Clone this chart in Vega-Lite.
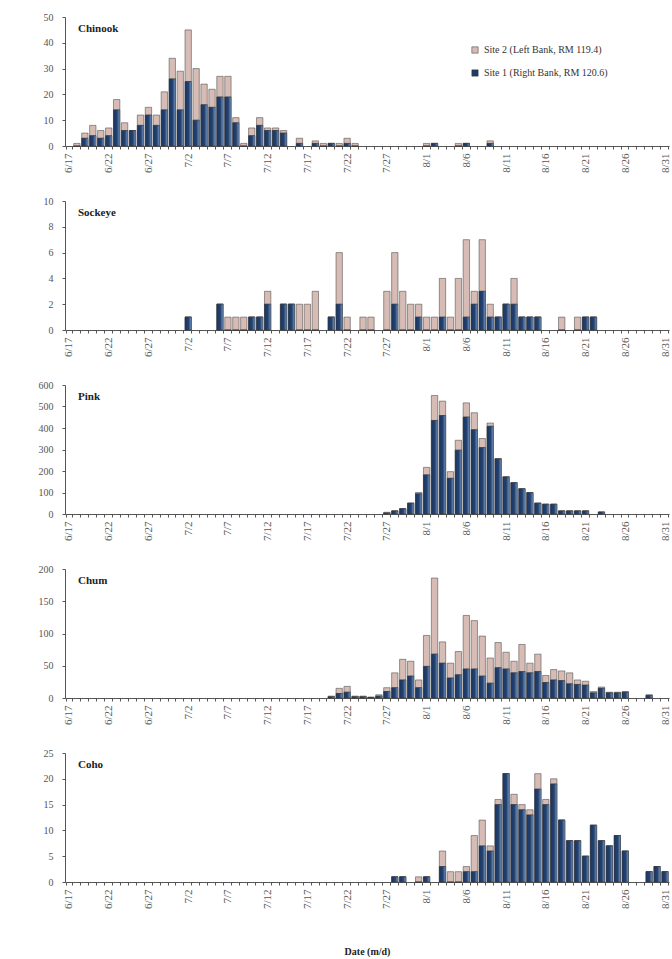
{
  "$schema": "https://vega.github.io/schema/vega-lite/v6.json",
  "padding": {"top": 12, "left": 38, "right": 0, "bottom": 4},
  "background": "white",
  "datasets": {
    "chinook": [
      {"d": "6/18", "s1": 0, "s2": 1}, {"d": "6/19", "s1": 3, "s2": 2}, {"d": "6/20", "s1": 4, "s2": 4},
      {"d": "6/21", "s1": 3, "s2": 3}, {"d": "6/22", "s1": 4, "s2": 3}, {"d": "6/23", "s1": 14, "s2": 4},
      {"d": "6/24", "s1": 6, "s2": 3}, {"d": "6/25", "s1": 6, "s2": 0}, {"d": "6/26", "s1": 8, "s2": 4},
      {"d": "6/27", "s1": 12, "s2": 3}, {"d": "6/28", "s1": 8, "s2": 4}, {"d": "6/29", "s1": 14, "s2": 7},
      {"d": "6/30", "s1": 26, "s2": 8}, {"d": "7/1", "s1": 14, "s2": 15}, {"d": "7/2", "s1": 25, "s2": 20},
      {"d": "7/3", "s1": 10, "s2": 20}, {"d": "7/4", "s1": 16, "s2": 8}, {"d": "7/5", "s1": 15, "s2": 7},
      {"d": "7/6", "s1": 19, "s2": 8}, {"d": "7/7", "s1": 19, "s2": 8}, {"d": "7/8", "s1": 9, "s2": 2},
      {"d": "7/9", "s1": 0, "s2": 1}, {"d": "7/10", "s1": 4, "s2": 3}, {"d": "7/11", "s1": 8, "s2": 3},
      {"d": "7/12", "s1": 6, "s2": 1}, {"d": "7/13", "s1": 6, "s2": 1}, {"d": "7/14", "s1": 5, "s2": 1},
      {"d": "7/16", "s1": 1, "s2": 2}, {"d": "7/18", "s1": 1, "s2": 1}, {"d": "7/19", "s1": 0, "s2": 1},
      {"d": "7/20", "s1": 1, "s2": 0}, {"d": "7/21", "s1": 0, "s2": 1}, {"d": "7/22", "s1": 1, "s2": 2},
      {"d": "7/23", "s1": 0, "s2": 1}, {"d": "8/1", "s1": 0, "s2": 1}, {"d": "8/2", "s1": 1, "s2": 0},
      {"d": "8/5", "s1": 0, "s2": 1}, {"d": "8/6", "s1": 1, "s2": 0}, {"d": "8/9", "s1": 1, "s2": 1}
    ],
    "sockeye": [
      {"d": "7/2", "s1": 1, "s2": 0}, {"d": "7/6", "s1": 2, "s2": 0}, {"d": "7/7", "s1": 0, "s2": 1},
      {"d": "7/8", "s1": 0, "s2": 1}, {"d": "7/9", "s1": 0, "s2": 1}, {"d": "7/10", "s1": 1, "s2": 0},
      {"d": "7/11", "s1": 1, "s2": 0}, {"d": "7/12", "s1": 2, "s2": 1}, {"d": "7/14", "s1": 2, "s2": 0},
      {"d": "7/15", "s1": 2, "s2": 0}, {"d": "7/16", "s1": 0, "s2": 2}, {"d": "7/17", "s1": 0, "s2": 2},
      {"d": "7/18", "s1": 0, "s2": 3}, {"d": "7/20", "s1": 1, "s2": 0}, {"d": "7/21", "s1": 2, "s2": 4},
      {"d": "7/22", "s1": 0, "s2": 1}, {"d": "7/24", "s1": 0, "s2": 1}, {"d": "7/25", "s1": 0, "s2": 1},
      {"d": "7/27", "s1": 0, "s2": 3}, {"d": "7/28", "s1": 2, "s2": 4}, {"d": "7/29", "s1": 0, "s2": 3},
      {"d": "7/30", "s1": 0, "s2": 2}, {"d": "7/31", "s1": 1, "s2": 1}, {"d": "8/1", "s1": 0, "s2": 1},
      {"d": "8/2", "s1": 0, "s2": 1}, {"d": "8/3", "s1": 1, "s2": 3}, {"d": "8/4", "s1": 0, "s2": 1},
      {"d": "8/5", "s1": 0, "s2": 4}, {"d": "8/6", "s1": 1, "s2": 6}, {"d": "8/7", "s1": 2, "s2": 1},
      {"d": "8/8", "s1": 3, "s2": 4}, {"d": "8/9", "s1": 1, "s2": 1}, {"d": "8/10", "s1": 1, "s2": 0},
      {"d": "8/11", "s1": 2, "s2": 0}, {"d": "8/12", "s1": 2, "s2": 2}, {"d": "8/13", "s1": 1, "s2": 0},
      {"d": "8/14", "s1": 1, "s2": 0}, {"d": "8/15", "s1": 1, "s2": 0}, {"d": "8/18", "s1": 0, "s2": 1},
      {"d": "8/20", "s1": 0, "s2": 1}, {"d": "8/21", "s1": 1, "s2": 0}, {"d": "8/22", "s1": 1, "s2": 0}
    ],
    "pink": [
      {"d": "7/27", "s1": 5, "s2": 3}, {"d": "7/28", "s1": 14, "s2": 1}, {"d": "7/29", "s1": 24, "s2": 1},
      {"d": "7/30", "s1": 50, "s2": 1}, {"d": "7/31", "s1": 94, "s2": 6}, {"d": "8/1", "s1": 182, "s2": 35},
      {"d": "8/2", "s1": 435, "s2": 116}, {"d": "8/3", "s1": 458, "s2": 67}, {"d": "8/4", "s1": 166, "s2": 31},
      {"d": "8/5", "s1": 297, "s2": 46}, {"d": "8/6", "s1": 451, "s2": 66}, {"d": "8/7", "s1": 392, "s2": 79},
      {"d": "8/8", "s1": 309, "s2": 42}, {"d": "8/9", "s1": 408, "s2": 15}, {"d": "8/10", "s1": 256, "s2": 2},
      {"d": "8/11", "s1": 172, "s2": 2}, {"d": "8/12", "s1": 145, "s2": 1}, {"d": "8/13", "s1": 117, "s2": 1},
      {"d": "8/14", "s1": 99, "s2": 1}, {"d": "8/15", "s1": 50, "s2": 1}, {"d": "8/16", "s1": 45, "s2": 1},
      {"d": "8/17", "s1": 45, "s2": 1}, {"d": "8/18", "s1": 14, "s2": 1}, {"d": "8/19", "s1": 14, "s2": 1},
      {"d": "8/20", "s1": 14, "s2": 1}, {"d": "8/21", "s1": 14, "s2": 1}, {"d": "8/23", "s1": 9, "s2": 0}
    ],
    "chum": [
      {"d": "7/20", "s1": 2, "s2": 1}, {"d": "7/21", "s1": 7, "s2": 8}, {"d": "7/22", "s1": 9, "s2": 9},
      {"d": "7/23", "s1": 2, "s2": 1}, {"d": "7/24", "s1": 2, "s2": 1}, {"d": "7/25", "s1": 1, "s2": 0},
      {"d": "7/26", "s1": 3, "s2": 2}, {"d": "7/27", "s1": 10, "s2": 6}, {"d": "7/28", "s1": 16, "s2": 23},
      {"d": "7/29", "s1": 28, "s2": 32}, {"d": "7/30", "s1": 34, "s2": 23}, {"d": "7/31", "s1": 16, "s2": 12},
      {"d": "8/1", "s1": 49, "s2": 48}, {"d": "8/2", "s1": 68, "s2": 118}, {"d": "8/3", "s1": 54, "s2": 33},
      {"d": "8/4", "s1": 31, "s2": 23}, {"d": "8/5", "s1": 36, "s2": 36}, {"d": "8/6", "s1": 45, "s2": 83},
      {"d": "8/7", "s1": 45, "s2": 75}, {"d": "8/8", "s1": 34, "s2": 62}, {"d": "8/9", "s1": 23, "s2": 39},
      {"d": "8/10", "s1": 47, "s2": 39}, {"d": "8/11", "s1": 45, "s2": 26}, {"d": "8/12", "s1": 39, "s2": 18},
      {"d": "8/13", "s1": 41, "s2": 42}, {"d": "8/14", "s1": 39, "s2": 15}, {"d": "8/15", "s1": 41, "s2": 27},
      {"d": "8/16", "s1": 24, "s2": 11}, {"d": "8/17", "s1": 28, "s2": 16}, {"d": "8/18", "s1": 27, "s2": 15},
      {"d": "8/19", "s1": 22, "s2": 17}, {"d": "8/20", "s1": 21, "s2": 7}, {"d": "8/21", "s1": 20, "s2": 6},
      {"d": "8/22", "s1": 8, "s2": 2}, {"d": "8/23", "s1": 15, "s2": 2}, {"d": "8/24", "s1": 8, "s2": 1},
      {"d": "8/25", "s1": 8, "s2": 1}, {"d": "8/26", "s1": 9, "s2": 1}, {"d": "8/29", "s1": 4, "s2": 1}
    ],
    "coho": [
      {"d": "7/28", "s1": 1, "s2": 0}, {"d": "7/29", "s1": 1, "s2": 0}, {"d": "7/31", "s1": 0, "s2": 1},
      {"d": "8/1", "s1": 1, "s2": 0}, {"d": "8/3", "s1": 3, "s2": 3}, {"d": "8/4", "s1": 0, "s2": 2},
      {"d": "8/5", "s1": 0, "s2": 2}, {"d": "8/6", "s1": 2, "s2": 1}, {"d": "8/7", "s1": 2, "s2": 7},
      {"d": "8/8", "s1": 7, "s2": 5}, {"d": "8/9", "s1": 6, "s2": 1}, {"d": "8/10", "s1": 15, "s2": 1},
      {"d": "8/11", "s1": 21, "s2": 0}, {"d": "8/12", "s1": 15, "s2": 2}, {"d": "8/13", "s1": 14, "s2": 1},
      {"d": "8/14", "s1": 13, "s2": 1}, {"d": "8/15", "s1": 18, "s2": 3}, {"d": "8/16", "s1": 15, "s2": 1},
      {"d": "8/17", "s1": 19, "s2": 1}, {"d": "8/18", "s1": 12, "s2": 0}, {"d": "8/19", "s1": 8, "s2": 0},
      {"d": "8/20", "s1": 8, "s2": 0}, {"d": "8/21", "s1": 5, "s2": 0}, {"d": "8/22", "s1": 11, "s2": 0},
      {"d": "8/23", "s1": 8, "s2": 0}, {"d": "8/24", "s1": 7, "s2": 0}, {"d": "8/25", "s1": 9, "s2": 0},
      {"d": "8/26", "s1": 6, "s2": 0}, {"d": "8/29", "s1": 2, "s2": 0}, {"d": "8/30", "s1": 3, "s2": 0},
      {"d": "8/31", "s1": 2, "s2": 0}
    ]
  },
  "config": {
    "view": {"stroke": null},
    "font": "Liberation Serif",
    "concat": {"spacing": 23},
    "axis": {"grid": false, "labelFont": "Liberation Serif", "labelColor": "#555", "domainColor": "#555", "tickColor": "#555", "tickSize": 3, "titleFont": "Liberation Serif"},
    "axisY": {"labelFontSize": 10, "labelPadding": 9, "title": null},
    "axisX": {"labelFontSize": 11, "labelAngle": -90, "labelPadding": 4, "tickBand": "extent", "title": null},
    "title": {"font": "Liberation Serif", "fontSize": 11, "fontWeight": "bold", "color": "#222", "anchor": "start", "frame": "group", "offset": -22, "dx": 13},
    "bar": {"stroke": "#3a3a3a", "strokeWidth": 0.5}
  },
  "resolve": {"scale": {"color": "independent"}, "legend": {"color": "independent"}},
  "vconcat": [
    {
      "width": 604, "height": 129,
      "title": {"text": "Chinook"},
      "data": {"name": "chinook"},
      "transform": [{"fold": ["s1", "s2"], "as": ["site", "n"]}],
      "encoding": {
        "x": {"field": "d", "type": "ordinal", "sort": null, "scale": {"domain": ["6/17","6/18","6/19","6/20","6/21","6/22","6/23","6/24","6/25","6/26","6/27","6/28","6/29","6/30","7/1","7/2","7/3","7/4","7/5","7/6","7/7","7/8","7/9","7/10","7/11","7/12","7/13","7/14","7/15","7/16","7/17","7/18","7/19","7/20","7/21","7/22","7/23","7/24","7/25","7/26","7/27","7/28","7/29","7/30","7/31","8/1","8/2","8/3","8/4","8/5","8/6","8/7","8/8","8/9","8/10","8/11","8/12","8/13","8/14","8/15","8/16","8/17","8/18","8/19","8/20","8/21","8/22","8/23","8/24","8/25","8/26","8/27","8/28","8/29","8/30","8/31"], "paddingInner": 0.2, "paddingOuter": 0.1},
          "axis": {"labelExpr": "indexof(['6/17','6/22','6/27','7/2','7/7','7/12','7/17','7/22','7/27','8/1','8/6','8/11','8/16','8/21','8/26','8/31'], datum.value) >= 0 ? datum.label : ''"}},
        "y": {"field": "n", "type": "quantitative", "stack": "zero", "scale": {"domain": [0, 50], "nice": false}, "axis": {"values": [0, 10, 20, 30, 40, 50]}},
        "order": {"field": "site", "sort": "ascending"}
      },
      "layer": [
        {
          "mark": {"type": "bar"},
          "encoding": {
            "color": {"field": "site", "type": "nominal", "scale": {"domain": ["s2", "s1"], "range": ["#d6bcb5", "#203b68"]},
              "legend": {"title": null, "orient": "none", "legendX": 405, "legendY": 28, "symbolType": "square", "symbolSize": 40, "symbolStrokeColor": "#333", "symbolStrokeWidth": 0.5, "labelFont": "Liberation Serif", "labelFontSize": 10, "labelColor": "#333", "rowPadding": 13, "labelLimit": 300,
                "labelExpr": "datum.value == 's2' ? 'Site 2 (Left Bank, RM 119.4)' : 'Site 1 (Right Bank, RM 120.6)'"}}
          }
        },
        {
          "transform": [{"filter": "datum.site == 's1'"}],
          "mark": {"type": "bar", "fill": {"gradient": "linear", "x1": 0, "x2": 1, "y1": 0, "y2": 0, "stops": [{"offset": 0, "color": "#1b3460"}, {"offset": 0.55, "color": "#24426f"}, {"offset": 1, "color": "#7396c4"}]}}
        }
      ]
    },
    {
      "width": 604, "height": 129,
      "title": {"text": "Sockeye"},
      "data": {"name": "sockeye"},
      "transform": [{"fold": ["s1", "s2"], "as": ["site", "n"]}],
      "encoding": {
        "x": {"field": "d", "type": "ordinal", "sort": null, "scale": {"domain": ["6/17","6/18","6/19","6/20","6/21","6/22","6/23","6/24","6/25","6/26","6/27","6/28","6/29","6/30","7/1","7/2","7/3","7/4","7/5","7/6","7/7","7/8","7/9","7/10","7/11","7/12","7/13","7/14","7/15","7/16","7/17","7/18","7/19","7/20","7/21","7/22","7/23","7/24","7/25","7/26","7/27","7/28","7/29","7/30","7/31","8/1","8/2","8/3","8/4","8/5","8/6","8/7","8/8","8/9","8/10","8/11","8/12","8/13","8/14","8/15","8/16","8/17","8/18","8/19","8/20","8/21","8/22","8/23","8/24","8/25","8/26","8/27","8/28","8/29","8/30","8/31"], "paddingInner": 0.2, "paddingOuter": 0.1},
          "axis": {"labelExpr": "indexof(['6/17','6/22','6/27','7/2','7/7','7/12','7/17','7/22','7/27','8/1','8/6','8/11','8/16','8/21','8/26','8/31'], datum.value) >= 0 ? datum.label : ''"}},
        "y": {"field": "n", "type": "quantitative", "stack": "zero", "scale": {"domain": [0, 10], "nice": false}, "axis": {"values": [0, 2, 4, 6, 8, 10]}},
        "order": {"field": "site", "sort": "ascending"}
      },
      "layer": [
        {
          "mark": {"type": "bar"},
          "encoding": {
            "color": {"field": "site", "type": "nominal", "scale": {"domain": ["s2", "s1"], "range": ["#d6bcb5", "#203b68"]}, "legend": null}
          }
        },
        {
          "transform": [{"filter": "datum.site == 's1'"}],
          "mark": {"type": "bar", "fill": {"gradient": "linear", "x1": 0, "x2": 1, "y1": 0, "y2": 0, "stops": [{"offset": 0, "color": "#1b3460"}, {"offset": 0.55, "color": "#24426f"}, {"offset": 1, "color": "#7396c4"}]}}
        }
      ]
    },
    {
      "width": 604, "height": 129,
      "title": {"text": "Pink"},
      "data": {"name": "pink"},
      "transform": [{"fold": ["s1", "s2"], "as": ["site", "n"]}],
      "encoding": {
        "x": {"field": "d", "type": "ordinal", "sort": null, "scale": {"domain": ["6/17","6/18","6/19","6/20","6/21","6/22","6/23","6/24","6/25","6/26","6/27","6/28","6/29","6/30","7/1","7/2","7/3","7/4","7/5","7/6","7/7","7/8","7/9","7/10","7/11","7/12","7/13","7/14","7/15","7/16","7/17","7/18","7/19","7/20","7/21","7/22","7/23","7/24","7/25","7/26","7/27","7/28","7/29","7/30","7/31","8/1","8/2","8/3","8/4","8/5","8/6","8/7","8/8","8/9","8/10","8/11","8/12","8/13","8/14","8/15","8/16","8/17","8/18","8/19","8/20","8/21","8/22","8/23","8/24","8/25","8/26","8/27","8/28","8/29","8/30","8/31"], "paddingInner": 0.2, "paddingOuter": 0.1},
          "axis": {"labelExpr": "indexof(['6/17','6/22','6/27','7/2','7/7','7/12','7/17','7/22','7/27','8/1','8/6','8/11','8/16','8/21','8/26','8/31'], datum.value) >= 0 ? datum.label : ''"}},
        "y": {"field": "n", "type": "quantitative", "stack": "zero", "scale": {"domain": [0, 600], "nice": false}, "axis": {"values": [0, 100, 200, 300, 400, 500, 600]}},
        "order": {"field": "site", "sort": "ascending"}
      },
      "layer": [
        {
          "mark": {"type": "bar"},
          "encoding": {
            "color": {"field": "site", "type": "nominal", "scale": {"domain": ["s2", "s1"], "range": ["#d6bcb5", "#203b68"]}, "legend": null}
          }
        },
        {
          "transform": [{"filter": "datum.site == 's1'"}],
          "mark": {"type": "bar", "fill": {"gradient": "linear", "x1": 0, "x2": 1, "y1": 0, "y2": 0, "stops": [{"offset": 0, "color": "#1b3460"}, {"offset": 0.55, "color": "#24426f"}, {"offset": 1, "color": "#7396c4"}]}}
        }
      ]
    },
    {
      "width": 604, "height": 129,
      "title": {"text": "Chum"},
      "data": {"name": "chum"},
      "transform": [{"fold": ["s1", "s2"], "as": ["site", "n"]}],
      "encoding": {
        "x": {"field": "d", "type": "ordinal", "sort": null, "scale": {"domain": ["6/17","6/18","6/19","6/20","6/21","6/22","6/23","6/24","6/25","6/26","6/27","6/28","6/29","6/30","7/1","7/2","7/3","7/4","7/5","7/6","7/7","7/8","7/9","7/10","7/11","7/12","7/13","7/14","7/15","7/16","7/17","7/18","7/19","7/20","7/21","7/22","7/23","7/24","7/25","7/26","7/27","7/28","7/29","7/30","7/31","8/1","8/2","8/3","8/4","8/5","8/6","8/7","8/8","8/9","8/10","8/11","8/12","8/13","8/14","8/15","8/16","8/17","8/18","8/19","8/20","8/21","8/22","8/23","8/24","8/25","8/26","8/27","8/28","8/29","8/30","8/31"], "paddingInner": 0.2, "paddingOuter": 0.1},
          "axis": {"labelExpr": "indexof(['6/17','6/22','6/27','7/2','7/7','7/12','7/17','7/22','7/27','8/1','8/6','8/11','8/16','8/21','8/26','8/31'], datum.value) >= 0 ? datum.label : ''"}},
        "y": {"field": "n", "type": "quantitative", "stack": "zero", "scale": {"domain": [0, 200], "nice": false}, "axis": {"values": [0, 50, 100, 150, 200]}},
        "order": {"field": "site", "sort": "ascending"}
      },
      "layer": [
        {
          "mark": {"type": "bar"},
          "encoding": {
            "color": {"field": "site", "type": "nominal", "scale": {"domain": ["s2", "s1"], "range": ["#d6bcb5", "#203b68"]}, "legend": null}
          }
        },
        {
          "transform": [{"filter": "datum.site == 's1'"}],
          "mark": {"type": "bar", "fill": {"gradient": "linear", "x1": 0, "x2": 1, "y1": 0, "y2": 0, "stops": [{"offset": 0, "color": "#1b3460"}, {"offset": 0.55, "color": "#24426f"}, {"offset": 1, "color": "#7396c4"}]}}
        }
      ]
    },
    {
      "width": 604, "height": 129,
      "title": {"text": "Coho"},
      "data": {"name": "coho"},
      "transform": [{"fold": ["s1", "s2"], "as": ["site", "n"]}],
      "encoding": {
        "x": {"field": "d", "type": "ordinal", "sort": null, "scale": {"domain": ["6/17","6/18","6/19","6/20","6/21","6/22","6/23","6/24","6/25","6/26","6/27","6/28","6/29","6/30","7/1","7/2","7/3","7/4","7/5","7/6","7/7","7/8","7/9","7/10","7/11","7/12","7/13","7/14","7/15","7/16","7/17","7/18","7/19","7/20","7/21","7/22","7/23","7/24","7/25","7/26","7/27","7/28","7/29","7/30","7/31","8/1","8/2","8/3","8/4","8/5","8/6","8/7","8/8","8/9","8/10","8/11","8/12","8/13","8/14","8/15","8/16","8/17","8/18","8/19","8/20","8/21","8/22","8/23","8/24","8/25","8/26","8/27","8/28","8/29","8/30","8/31"], "paddingInner": 0.2, "paddingOuter": 0.1},
          "axis": {"title": "Date (m/d)", "titleFontSize": 10, "titleFontWeight": "bold", "titleColor": "#222", "titlePadding": 38, "labelExpr": "indexof(['6/17','6/22','6/27','7/2','7/7','7/12','7/17','7/22','7/27','8/1','8/6','8/11','8/16','8/21','8/26','8/31'], datum.value) >= 0 ? datum.label : ''"}},
        "y": {"field": "n", "type": "quantitative", "stack": "zero", "scale": {"domain": [0, 25], "nice": false}, "axis": {"values": [0, 5, 10, 15, 20, 25]}},
        "order": {"field": "site", "sort": "ascending"}
      },
      "layer": [
        {
          "mark": {"type": "bar"},
          "encoding": {
            "color": {"field": "site", "type": "nominal", "scale": {"domain": ["s2", "s1"], "range": ["#d6bcb5", "#203b68"]}, "legend": null}
          }
        },
        {
          "transform": [{"filter": "datum.site == 's1'"}],
          "mark": {"type": "bar", "fill": {"gradient": "linear", "x1": 0, "x2": 1, "y1": 0, "y2": 0, "stops": [{"offset": 0, "color": "#1b3460"}, {"offset": 0.55, "color": "#24426f"}, {"offset": 1, "color": "#7396c4"}]}}
        }
      ]
    }
  ]
}
